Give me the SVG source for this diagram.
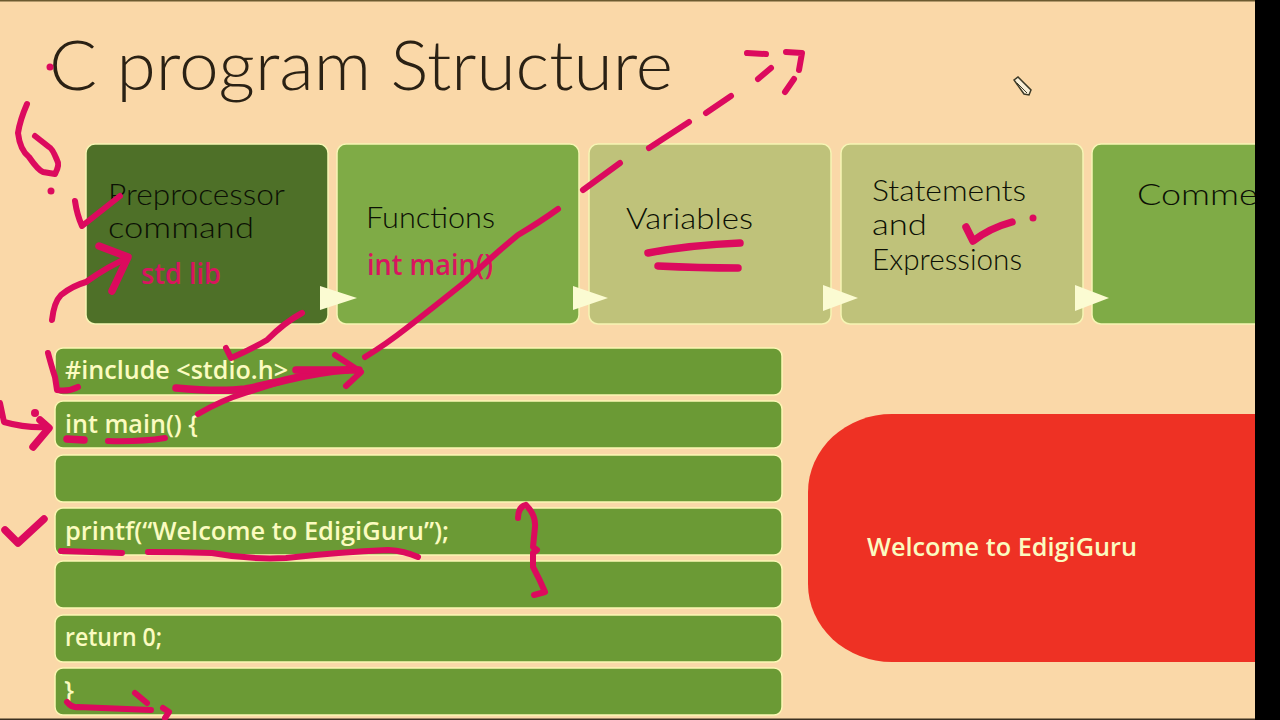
<svg xmlns="http://www.w3.org/2000/svg" width="1280" height="720" viewBox="0 0 1280 720">
<style>
.box{stroke:#f6f5b4;stroke-width:1.5}
.row{fill:#6b9a35;stroke:#fbf7b4;stroke-width:1.5}
.t{font-family:"Lato","Open Sans",sans-serif;font-weight:300;font-size:30px;fill:#0c1005}
.pk{font-family:"Open Sans","Noto Sans",sans-serif;font-weight:600;font-size:29px;fill:#d9145f}
.c{font-family:"Open Sans","Noto Sans",sans-serif;font-weight:600;font-size:26px;fill:#fbfbc0}
.tri{fill:#fbfbd2}
.ink path{fill:none;stroke:#dc0a5e;stroke-width:6;stroke-linecap:round;stroke-linejoin:round}
.ink path.hv{stroke-width:7.5}
.ink circle{fill:#dc0a5e}
</style>
<rect width="1280" height="720" fill="#fad8a8"/>
<rect width="1280" height="1.5" fill="#6b5a30"/>
<rect y="718.5" width="1280" height="1.5" fill="#3a3020"/>
<text id="title" x="49" y="90" font-family="Lato,'Open Sans',sans-serif" font-weight="300" font-size="69" fill="#2a2114" textLength="624" lengthAdjust="spacingAndGlyphs">C program Structure</text>

<g id="node-preprocessor"><rect class="box" x="86" y="144" width="242" height="180" rx="9" fill="#4e7028"/>
<text class="t" x="108" y="205" textLength="177" lengthAdjust="spacingAndGlyphs">Preprocessor</text>
<text class="t" x="108" y="238" textLength="146" lengthAdjust="spacingAndGlyphs">command</text>
<text class="pk" x="141" y="284" textLength="80" lengthAdjust="spacingAndGlyphs">std lib</text></g>
<g id="node-functions"><rect class="box" x="337" y="144" width="242" height="180" rx="9" fill="#7fab46"/>
<text class="t" x="366" y="228" textLength="129" lengthAdjust="spacingAndGlyphs">Functions</text>
<text class="pk" x="367" y="275" textLength="126" lengthAdjust="spacingAndGlyphs">int main()</text></g>
<g id="node-variables"><rect class="box" x="589" y="144" width="242" height="180" rx="9" fill="#bfc27a"/>
<text class="t" x="626" y="229" textLength="127" lengthAdjust="spacingAndGlyphs">Variables</text></g>
<g id="node-statements"><rect class="box" x="841" y="144" width="242" height="180" rx="9" fill="#bfc27a"/>
<text class="t" x="872" y="201" textLength="154" lengthAdjust="spacingAndGlyphs">Statements</text>
<text class="t" x="872" y="235" textLength="55" lengthAdjust="spacingAndGlyphs">and</text>
<text class="t" x="872" y="270" textLength="150" lengthAdjust="spacingAndGlyphs">Expressions</text></g>
<g id="node-comments"><rect class="box" x="1092" y="144" width="242" height="180" rx="9" fill="#7fab46"/>
<text class="t" x="1137" y="205" textLength="168" lengthAdjust="spacingAndGlyphs">Comments</text></g>

<g id="connectors">
<polygon class="tri" points="320,286 357,298 320,310"/>
<polygon class="tri" points="573,286 608,298 573,310"/>
<polygon class="tri" points="823,285 858,298 823,311"/>
<polygon class="tri" points="1075,285 1109,298 1075,311"/>
</g>

<g id="row-include"><rect class="row" x="55" y="348" width="727" height="47" rx="8"/><text class="c" x="65" y="379" textLength="223" lengthAdjust="spacingAndGlyphs">#include &lt;stdio.h&gt;</text></g>
<g id="row-main"><rect class="row" x="55" y="401" width="727" height="47" rx="8"/><text class="c" x="65" y="433" textLength="133" lengthAdjust="spacingAndGlyphs">int main() {</text></g>
<g id="row-blank1"><rect class="row" x="55" y="455" width="727" height="47" rx="8"/></g>
<g id="row-printf"><rect class="row" x="55" y="508" width="727" height="47" rx="8"/><text class="c" x="65" y="540" textLength="384" lengthAdjust="spacingAndGlyphs">printf(“Welcome to EdigiGuru”);</text></g>
<g id="row-blank2"><rect class="row" x="55" y="561" width="727" height="47" rx="8"/></g>
<g id="row-return"><rect class="row" x="55" y="615" width="727" height="47" rx="8"/><text class="c" x="65" y="646" textLength="97" lengthAdjust="spacingAndGlyphs">return 0;</text></g>
<g id="row-close"><rect class="row" x="55" y="668" width="727" height="47" rx="8"/><text class="c" x="64" y="699">}</text></g>

<g id="output"><rect x="808" y="414" width="560" height="248" rx="84" ry="78" fill="#ee3124"/>
<text class="c" x="867" y="556" textLength="270" lengthAdjust="spacingAndGlyphs">Welcome to EdigiGuru</text></g>

<rect id="edge" x="1255" y="0" width="25" height="720" fill="#000"/>

<g id="cursor"><path d="M1014,80 L1018,77 L1031,90 L1029,95 L1024,94 Z" fill="#f8efd8" stroke="#3c3a28" stroke-width="1.5"/><path d="M1017,83 L1027,93" stroke="#3c3a28" stroke-width="1" fill="none"/></g>

<g id="ink" class="ink">
<circle cx="50" cy="67" r="3.5"/><circle cx="51" cy="191" r="3.5"/><circle cx="1033" cy="218" r="3.5"/><circle cx="35" cy="413" r="4"/>
<path d="M27,104 Q20,120 18,133 Q20,150 29,157 Q38,170 43,172 L55,174 Q60,165 57,160 Q52,148 49,147 L35,136"/>
<path d="M75,201 Q77,215 82,226 L120,196"/>
<path d="M52,320 Q54,302 61,295 Q72,286 86,282 Q110,265 128,258"/>
<path class="hv" d="M99,246 L128,257 L112,291"/>
<path d="M302,313 Q285,322 267,340 Q250,350 231,358 L226,348"/>
<path d="M558,209 Q540,222 518,235 Q490,258 465,282 Q430,310 408,327 Q385,345 365,357"/>
<path d="M583,190 L620,163"/><path d="M649,148 L689,122"/><path d="M706,113 L731,96"/>
<path d="M747,53 L766,54"/><path d="M758,79 L771,68"/><path d="M786,52 L802,53 L799,70"/><path d="M785,92 L794,79"/>
<path class="hv" d="M648,253 Q690,245 740,243"/><path class="hv" d="M658,266 Q700,268 738,268"/>
<path class="hv" d="M966,227 L973,241 Q990,228 1012,222"/>
<path d="M48,353 Q52,368 55,377 L57,390 Q68,392 78,387"/>
<path class="hv" d="M176,388 Q220,392 245,389 Q270,384 286,380 Q320,372 347,370"/>
<path class="hv" d="M296,370 L359,370"/><path d="M335,355 L361,372 L346,386"/>
<path d="M198,414 Q222,400 245,393 L286,380"/>
<path d="M0,403 L4,422 Q25,428 47,427"/><path class="hv" d="M33,447 L49,428 L40,420"/>
<path class="hv" d="M67,439 L84,440"/><path d="M108,441 Q140,442 165,438"/>
<path class="hv" d="M5,530 L18,543 L44,519"/>
<path d="M61,551 L122,553"/>
<path d="M148,552 Q180,552 212,553 Q250,560 286,558 Q340,552 388,550 Q405,551 418,557"/>
<path d="M526,505 Q518,507 518,518 M526,505 Q536,515 535,527 L533,547 L537,550 L533,553 L533,567 Q540,580 545,592 L534,595"/>
<path d="M67,702 Q72,708 78,707 L151,710"/><path d="M135,693 L147,703"/><path d="M163,708 L169,712 L165,718"/>
</g>
</svg>
